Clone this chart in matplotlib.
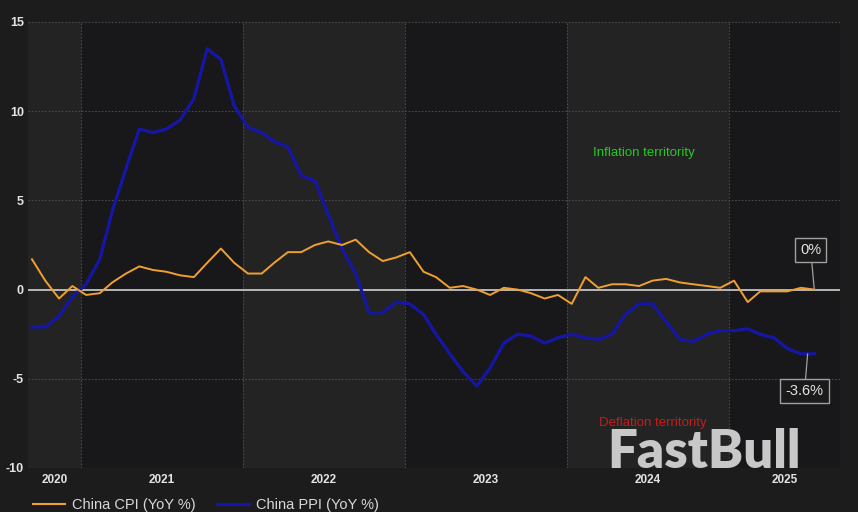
"""
China CPI vs PPI (YoY %), monthly, Sep 2020 - Jul 2025, dark FastBull style.
"""

import numpy as np
import pandas as pd
import matplotlib
matplotlib.use("Agg")
import matplotlib.pyplot as plt
from matplotlib.lines import Line2D

plt.rcParams["font.family"] = ["Liberation Sans", "DejaVu Sans"]

# ── Data ─────────────────────────────────────────────────────────────────────

months = pd.date_range("2020-09-01", "2025-07-01", freq="MS")

cpi = [1.7, 0.5, -0.5, 0.2,
       -0.3, -0.2, 0.4, 0.9, 1.3, 1.1, 1.0, 0.8, 0.7, 1.5, 2.3, 1.5,
       0.9, 0.9, 1.5, 2.1, 2.1, 2.5, 2.7, 2.5, 2.8, 2.1, 1.6, 1.8,
       2.1, 1.0, 0.7, 0.1, 0.2, 0.0, -0.3, 0.1, 0.0, -0.2, -0.5, -0.3,
       -0.8, 0.7, 0.1, 0.3, 0.3, 0.2, 0.5, 0.6, 0.4, 0.3, 0.2, 0.1,
       0.5, -0.7, -0.1, -0.1, -0.1, 0.1, 0.0]

ppi = [-2.1, -2.1, -1.5, -0.4,
       0.3, 1.7, 4.4, 6.8, 9.0, 8.8, 9.0, 9.5, 10.7, 13.5, 12.9, 10.3,
       9.1, 8.8, 8.3, 8.0, 6.4, 6.1, 4.2, 2.3, 0.9, -1.3, -1.3, -0.7,
       -0.8, -1.4, -2.5, -3.6, -4.6, -5.4, -4.4, -3.0, -2.5, -2.6, -3.0, -2.7,
       -2.5, -2.7, -2.8, -2.5, -1.4, -0.8, -0.8, -1.8, -2.8, -2.9, -2.5, -2.3,
       -2.3, -2.2, -2.5, -2.7, -3.3, -3.6, -3.6]

years = [2020, 2021, 2022, 2023, 2024, 2025]
y_ticks = [-10, -5, 0, 5, 10, 15]

cpi_label = "China CPI (YoY %)"
ppi_label = "China PPI (YoY %)"
cpi_last = "0%"
ppi_last = "-3.6%"

# ── Style ────────────────────────────────────────────────────────────────────

BG = "#1c1c1d"
BAND_LIGHT = "#232324"
BAND_DARK = "#18181a"
GRID = "#4a4a4c"
TEXT = "#e4e4e4"
CPI_COLOR = "#f0a030"
PPI_COLOR = "#1616a6"

# points sit ~mid-month
x = months + pd.Timedelta(days=11)
x_min = pd.Timestamp("2020-09-03")
x_max = pd.Timestamp("2025-09-08")

fig = plt.figure(figsize=(8.58, 5.12), dpi=100, facecolor=BG)
ax = fig.add_axes([28 / 858, 1 - 468 / 512, (840 - 28) / 858, (468 - 22) / 512])
ax.set_facecolor(BAND_DARK)

# alternating year bands
for i, yr in enumerate(years):
    start = pd.Timestamp(f"{yr}-01-01")
    end = pd.Timestamp(f"{yr + 1}-01-01")
    ax.axvspan(start, end, color=BAND_LIGHT if i % 2 == 0 else BAND_DARK,
               lw=0, zorder=0)
    if yr > years[0]:
        ax.axvline(start, color=GRID, lw=0.8, ls=(0, (1.5, 1.5)), zorder=1)

for yv in y_ticks:
    if yv != 0:
        ax.axhline(yv, color=GRID, lw=0.8, ls=(0, (1.5, 1.5)), zorder=1)
ax.axhline(0, color="#d0d0d0", lw=1.2, zorder=2)

ax.plot(x, ppi, color=PPI_COLOR, lw=2.3, solid_joinstyle="round", zorder=3)
ax.plot(x, cpi, color=CPI_COLOR, lw=1.4, solid_joinstyle="round", zorder=4)

ax.set_xlim(x_min, x_max)
ax.set_ylim(-10, 15)
for s in ax.spines.values():
    s.set_visible(False)

ax.set_yticks(y_ticks)
ax.set_yticklabels([str(v) for v in y_ticks], color=TEXT, fontsize=9,
                   fontweight="bold")

# year labels centred on the visible part of each year
label_pos = []
for yr in years:
    a = max(pd.Timestamp(f"{yr}-01-01"), x_min)
    b = min(pd.Timestamp(f"{yr + 1}-01-01"), x_max)
    label_pos.append(a + (b - a) / 2)
ax.set_xticks(label_pos)
ax.set_xticklabels([str(y) for y in years], color=TEXT, fontsize=8.5,
                   fontweight="bold")
ax.tick_params(axis="x", length=0, pad=4)
ax.tick_params(axis="y", length=0, pad=3)

# territory notes
ax.text(pd.Timestamp("2024-03-01"), 7.65, "Inflation territority",
        color="#22cc22", fontsize=9.5, va="center")
ax.text(pd.Timestamp("2024-03-14"), -7.5, "Deflation territority",
        color="#c41c1c", fontsize=9.5, va="center")

# last-value callouts
box = dict(boxstyle="square,pad=0.35", fc="#1a1a1b", ec="#a0a0a0", lw=1)
ax.annotate(cpi_last, xy=(x[-1], cpi[-1]),
            xytext=(x[-1] - pd.Timedelta(days=8), 2.2),
            color=TEXT, fontsize=10.5, ha="center", va="center", bbox=box,
            arrowprops=dict(arrowstyle="-", color="#a0a0a0", lw=0.9,
                            shrinkA=0, shrinkB=0), zorder=6)
ax.annotate(ppi_last, xy=(x[-1] - pd.Timedelta(days=15), ppi[-1]),
            xytext=(x[-1] - pd.Timedelta(days=22), -5.7),
            color=TEXT, fontsize=10.5, ha="center", va="center", bbox=box,
            arrowprops=dict(arrowstyle="-", color="#a0a0a0", lw=0.9,
                            shrinkA=0, shrinkB=0), zorder=6)

# watermark
fig.text(607 / 858, 1 - 468 / 512, "FastBull", color="#c8c8c8",
         fontsize=38, fontweight="heavy", family=["Lato", "DejaVu Sans"],
         ha="left", va="baseline", zorder=10)

# legend
handles = [Line2D([], [], color=CPI_COLOR, lw=1.5),
           Line2D([], [], color=PPI_COLOR, lw=2.3)]
fig.legend(handles, [cpi_label, ppi_label], loc="lower left",
           bbox_to_anchor=(20 / 858, -0.026), ncol=2, frameon=False,
           fontsize=10.5, labelcolor="#d8d8d8", handlelength=2.2,
           handletextpad=0.5, columnspacing=1.4)

fig.savefig("out.png", dpi=100, facecolor=BG)
